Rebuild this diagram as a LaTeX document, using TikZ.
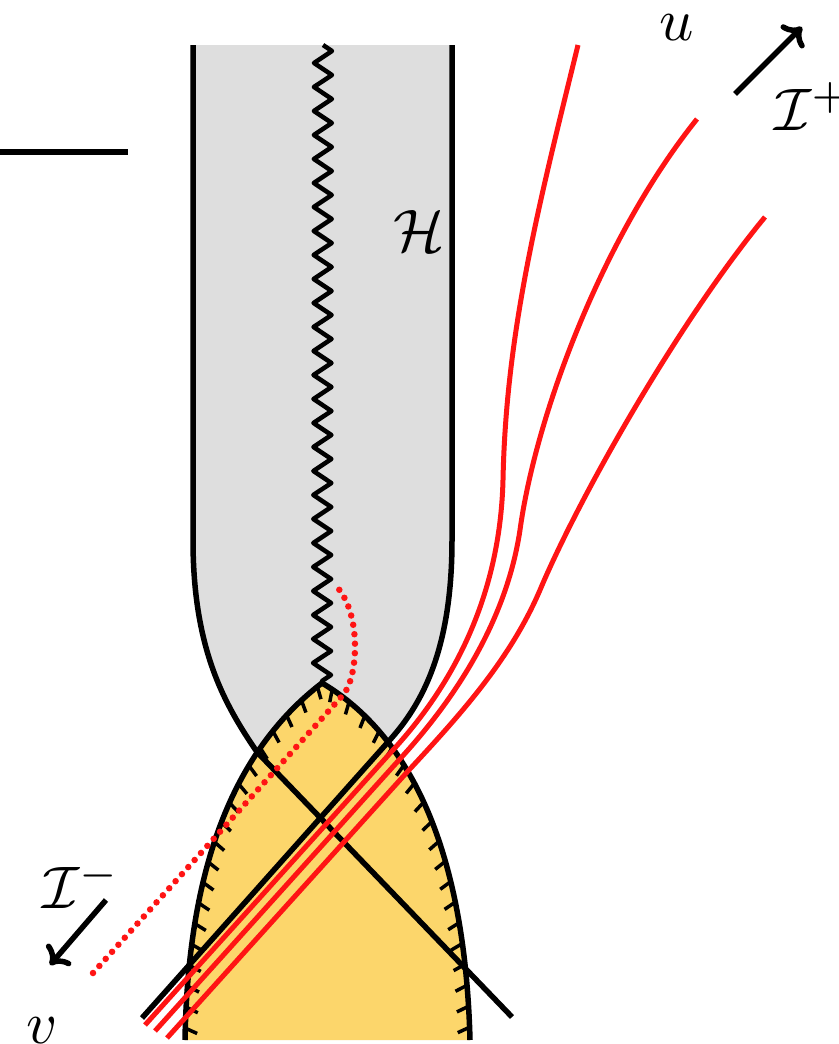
\documentclass[tikz,border=0pt]{standalone}
\usepackage{xcolor}
\usepackage{tikz}
\usetikzlibrary{arrows.meta, decorations.pathmorphing, decorations.markings}
\definecolor{bhgray}{HTML}{DEDEDE}
\definecolor{bhyellow}{HTML}{FCD66B}
\definecolor{rayred}{HTML}{FF1414}

\begin{document}
\begin{tikzpicture}[x=1pt, y=-1pt, line width=5.5pt,
  ray/.style={rayred, line width=5pt},
  lhatch/.style={postaction={decorate}, decoration={markings,
      mark=between positions 0.03 and 0.99 step 21pt with {\draw[black, line width=3.5pt] (0,0) -- (-5pt,-12pt);}}},
  rhatch/.style={postaction={decorate}, decoration={markings,
      mark=between positions 0.03 and 0.99 step 21pt with {\draw[black, line width=3.5pt] (0,0) -- (5pt,-12pt);}}},
  lbl/.style={scale=6, inner sep=0pt}]
  \useasboundingbox (0,0) rectangle (838,1044);
  \fill[white] (0,0) rectangle (838,1044);

  \coordinate (apex) at (322,683);
  \coordinate (lneck) at (257,752);
  \coordinate (rneck) at (388,742);

  % gray tube
  \fill[bhgray] (193,45) -- (193,540) .. controls (193,650) and (225,705) .. (lneck)
        -- (apex) -- (rneck) .. controls (422,705) and (452,650) .. (452,540) -- (452,45) -- cycle;
  \draw (193,45) -- (193,540) .. controls (193,650) and (225,705) .. (lneck);
  \draw (452,45) -- (452,540) .. controls (452,650) and (422,705) .. (rneck);

  % yellow region
  \fill[bhyellow] (185,1040) .. controls (188,870) and (232,752) .. (apex)
        .. controls (410,735) and (465,850) .. (470,1040) -- cycle;
  \draw[lhatch] (185,1040) .. controls (188,870) and (232,752) .. (apex);
  \draw[rhatch] (apex) .. controls (410,735) and (465,850) .. (470,1040);

  \draw[line width=4.5pt, line join=round, decorate, decoration={zigzag, amplitude=9pt, segment length=24pt}] (323,45) -- (apex);

  \draw (lneck) -- (512,1017);
  \draw (142,1018) -- (rneck);

  % rays
  \draw[ray] (145,1025) -- (393,750) .. controls (450,688) and (500,600) .. (503,480)
        .. controls (506,330) and (540,200) .. (578,45);
  \draw[ray] (155,1031) -- (399,760) .. controls (445,710) and (505,630) .. (520,530)
        .. controls (535,420) and (600,240) .. (697,119);
  \draw[ray] (167,1038) -- (409,770) .. controls (460,715) and (510,660) .. (540,590)
        .. controls (580,495) and (680,320) .. (765,217);
  \draw[rayred, line width=6.5pt, line cap=round, dash pattern=on 0pt off 9.5pt] (93,973) -- (343,695) .. controls (358,678) and (362,615) .. (337,587);

  \draw (0,152) -- (128,152);
  \draw[-{To[length=16pt,width=32pt]}] (735,94) -- (802,27);
  \draw[-{To[length=16pt,width=32pt]}] (106,900) -- (50,965);

  \node (ulab) [lbl, anchor=base] at (677,40) {$u$};
  \node (vlab) [lbl, anchor=base west] at (10,1043) {$v$};
  \node (hlab) [lbl, anchor=base west] at (377,251) {$\mathcal{H}$};
  \node (iplus) [lbl, anchor=base west] at (758,130) {$\mathcal{I}^+$};
  \node (iminus) [lbl, anchor=base west] at (26,908) {$\mathcal{I}^-$};
\end{tikzpicture}
\end{document}
